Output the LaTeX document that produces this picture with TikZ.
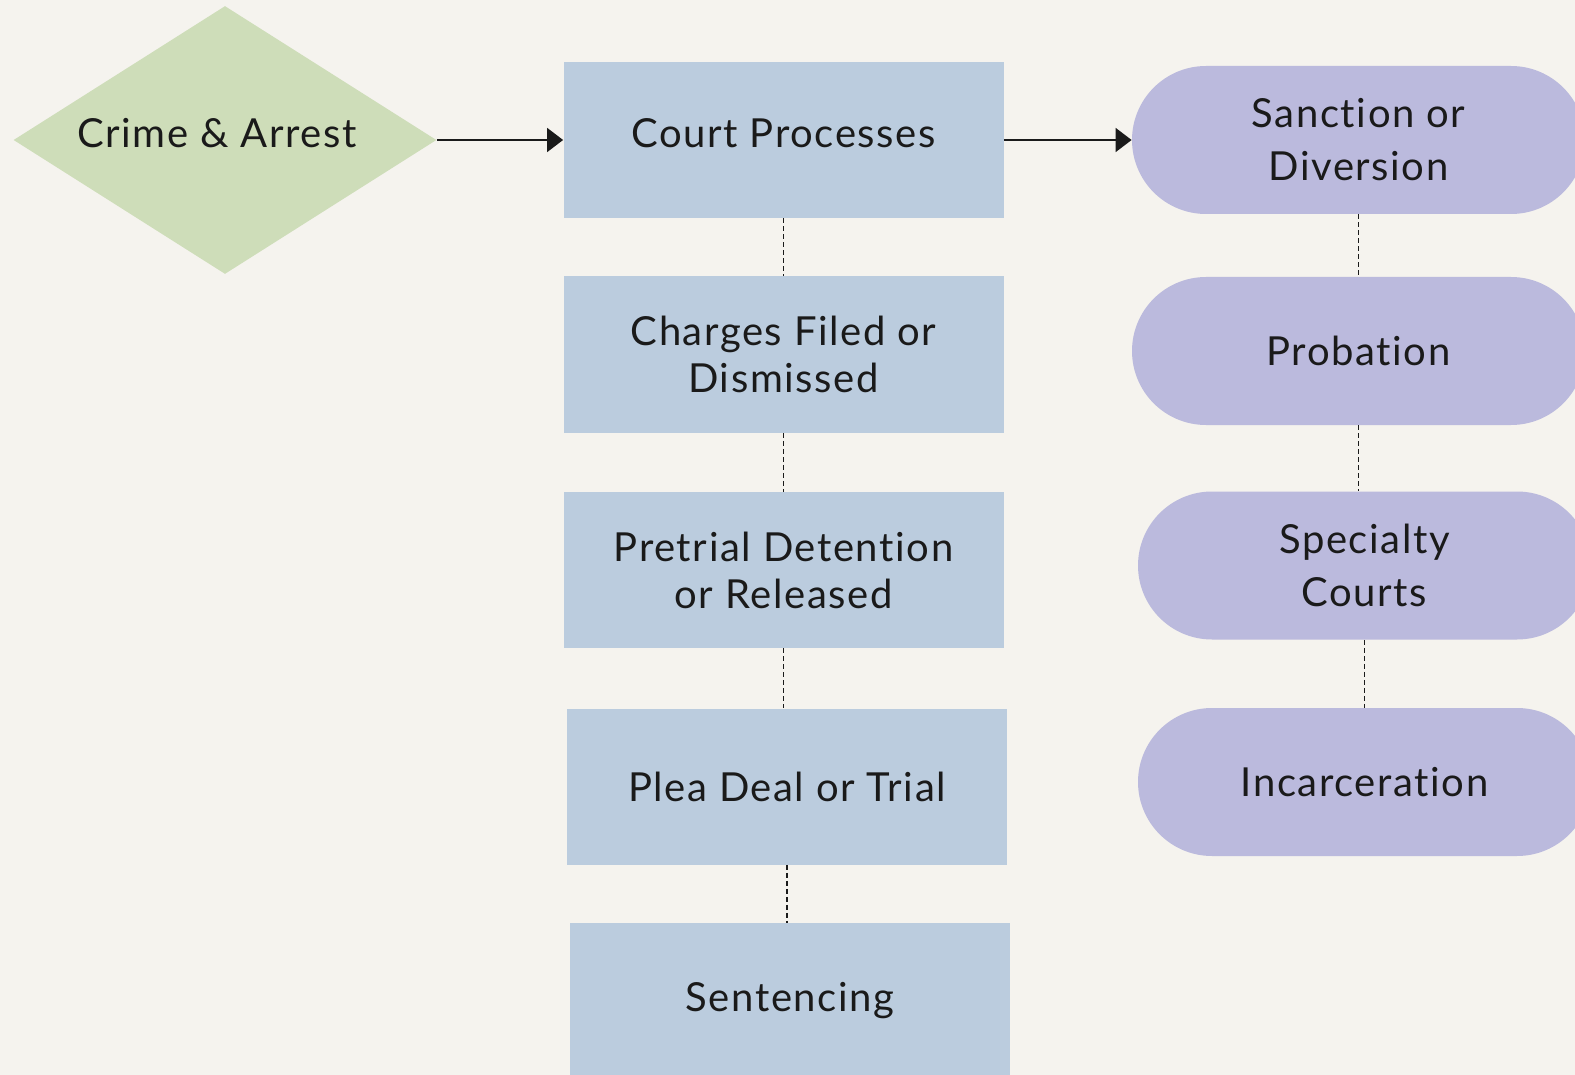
\documentclass[tikz,border=0pt]{standalone}
\usepackage{fontspec}
\setmainfont{Lato}[LetterSpace=4, Ligatures={NoCommon}]
\usetikzlibrary{arrows.meta,positioning,shapes.geometric,shapes.misc}

\definecolor{paper}{HTML}{F5F3EE}
\definecolor{arrestgreen}{HTML}{CEDDB9}
\definecolor{courtblue}{HTML}{BBCCDE}
\definecolor{outcomeviolet}{HTML}{BBBADD}
\definecolor{ink}{HTML}{1A1A1A}

\tikzset{
  stage/.style={rectangle, fill=courtblue, minimum width=220pt, minimum height=78pt, inner sep=0pt},
  outcome/.style={rounded rectangle, fill=outcomeviolet, minimum width=226.5pt, minimum height=74pt, inner sep=0pt, font=\fontsize{20}{26.5}\selectfont},
  event/.style={diamond, aspect=1.58, fill=arrestgreen, minimum width=211.5pt, minimum height=134pt, inner sep=0pt},
  link/.style={dash pattern=on 2.5pt off 1.5pt, line width=0.6pt, ink},
  flow/.style={-{Triangle[length=8pt,width=12pt]}, line width=0.8pt, ink},
}

\begin{document}
\begin{tikzpicture}[x=0.5pt, y=-0.5pt, align=center, text=ink, font=\fontsize{20}{23.5}\selectfont]
\fill[paper] (0,0) rectangle (1575,1075);
\useasboundingbox (0,0) rectangle (1575,1075);

\node (arrest) [event] at (225,140) {\raisebox{7pt}{Crime \& Arrest}\hspace*{8pt}};

% -------------------------------

\node (court) [stage] at (783.5,140) {\raisebox{7pt}{Court Processes}};
\node (charges) [stage] at (783.5,354.5) {Charges Filed or\\Dismissed};
\node (pretrial) [stage] at (783.5,570) {Pretrial Detention\\or Released};
\node (plea) [stage] at (787,786.5) {Plea Deal or Trial};
\node (sentencing) [stage] at (790,1001) {Sentencing};

% -------------------------------

\node (sanction) [outcome] at (1358.5,140) {Sanction or\\Diversion};
\node (probation) [outcome] at (1358.5,351) {Probation};
\node (specialty) [outcome] at (1364.5,565.5) {Specialty\\Courts};
\node (incarceration) [outcome] at (1364.5,782) {Incarceration};

\draw[flow] (arrest) -- (court);
\draw[flow] (court) -- (sanction);

\draw[link] (court.south) -- (court.south |- charges.north);
\draw[link] (charges.south) -- (charges.south |- pretrial.north);
\draw[link] (pretrial.south) -- (pretrial.south |- plea.north);
\draw[link] (plea.south) -- (plea.south |- sentencing.north);

\draw[link] (sanction.south) -- (sanction.south |- probation.north);
\draw[link] (probation.south) -- (probation.south |- specialty.north);
\draw[link] (specialty.south) -- (specialty.south |- incarceration.north);
\end{tikzpicture}
\end{document}
